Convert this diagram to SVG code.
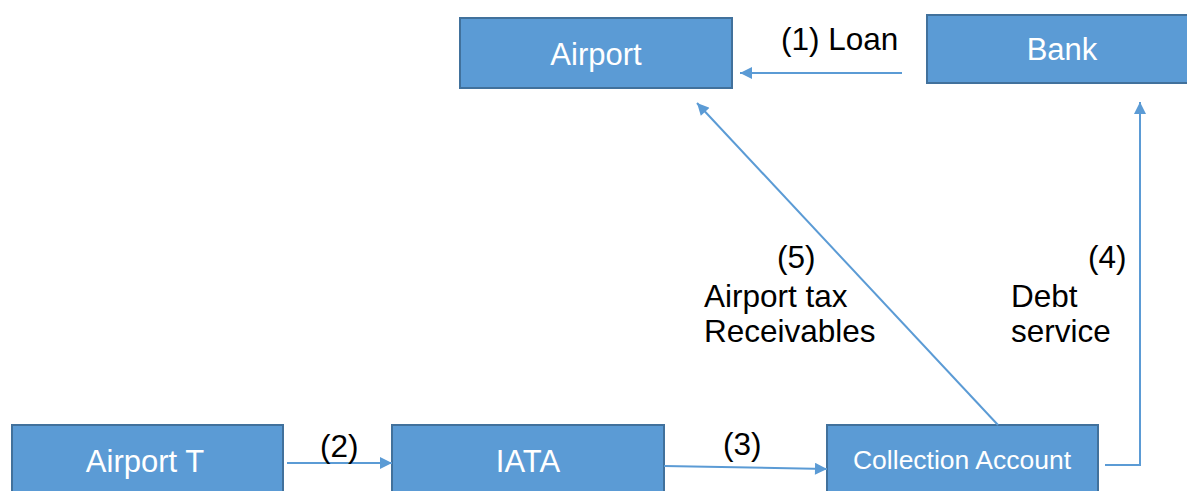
<svg xmlns="http://www.w3.org/2000/svg" width="1187" height="491" viewBox="0 0 1187 491">
<defs>
<style>
.box{fill:#5B9BD5;stroke:#41719C;stroke-width:2}
.bt{fill:#fff;font-family:"Liberation Sans",Arial,sans-serif;font-size:31px;text-anchor:middle}
.lb{fill:#000;font-family:"Liberation Sans",Arial,sans-serif;font-size:31.5px}
.cn{fill:none;stroke:#5B9BD5;stroke-width:2}
</style>
<marker id="ah" viewBox="0 0 10 10" refX="10" refY="5" markerWidth="14" markerHeight="12" markerUnits="userSpaceOnUse" orient="auto">
<path d="M0,0 L10,5 L0,10 z" fill="#5B9BD5"/>
</marker>
</defs>
<rect width="1187" height="491" fill="#fff"/>
<g id="airport"><rect class="box" x="460" y="18" width="272" height="70"/><text class="bt" x="596" y="65">Airport</text></g>
<g id="bank"><rect class="box" x="927" y="15" width="270" height="68"/><text class="bt" x="1062" y="60">Bank</text></g>
<g id="airport-t"><rect class="box" x="12" y="425" width="271" height="72"/><text class="bt" x="145" y="472">Airport T</text></g>
<g id="iata"><rect class="box" x="392" y="425" width="272" height="72"/><text class="bt" x="528" y="472">IATA</text></g>
<g id="collection"><rect class="box" x="827" y="425" width="271" height="72"/><text class="bt" x="962" y="469" style="font-size:26.5px">Collection Account</text></g>
<g id="connectors">
<line class="cn" x1="902" y1="73" x2="740" y2="73" marker-end="url(#ah)"/>
<line class="cn" x1="287" y1="463" x2="392" y2="463" marker-end="url(#ah)"/>
<line class="cn" x1="664" y1="466" x2="827" y2="469" marker-end="url(#ah)"/>
<polyline class="cn" points="1105,465 1140,465 1140,102" marker-end="url(#ah)"/>
<line class="cn" x1="998" y1="425" x2="697" y2="103" marker-end="url(#ah)"/>
</g>
<g id="labels">
<text class="lb" x="781" y="50">(1) Loan</text>
<text class="lb" x="320" y="457">(2)</text>
<text class="lb" x="723" y="455">(3)</text>
<text class="lb" x="1088" y="268">(4)</text>
<text class="lb" x="1011" y="307">Debt</text>
<text class="lb" x="1011" y="342">service</text>
<text class="lb" x="777" y="268">(5)</text>
<text class="lb" x="704" y="307">Airport tax</text>
<text class="lb" x="704" y="342">Receivables</text>
</g>
</svg>
